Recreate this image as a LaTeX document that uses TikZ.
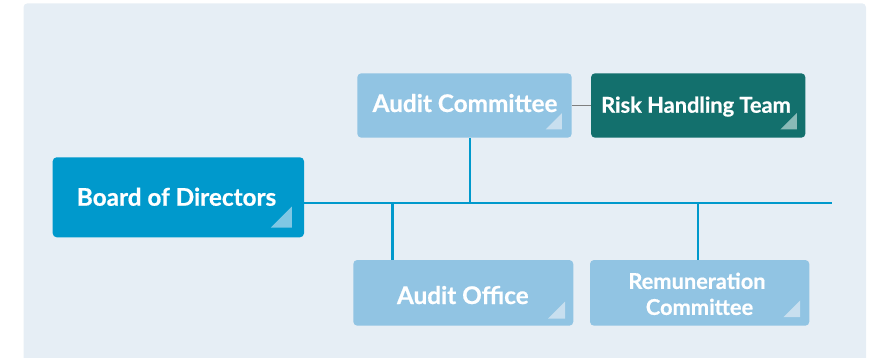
\documentclass[tikz,border=0pt]{standalone}
\usepackage{fontspec}
\setmainfont{Lato}[BoldFeatures={FakeBold=0.6}]
\usetikzlibrary{calc}
\definecolor{bg}{HTML}{E6EEF5}
\definecolor{boardc}{HTML}{0099CC}
\definecolor{lightc}{HTML}{91C4E3}
\definecolor{riskc}{HTML}{13706D}
\definecolor{linec}{HTML}{0099CC}
\definecolor{grayc}{HTML}{7F7F7F}
\definecolor{tri1}{HTML}{7FC7E4}
\definecolor{tri2}{HTML}{C8DFEF}
\definecolor{tri3}{HTML}{8ABAB7}
\newcommand\mycorner[4]{\fill[#4] ($(#1.south east)+(#2)$) -- ++(0,-#3) -- ++(-#3,#3) -- cycle;}
\begin{document}
\begin{tikzpicture}[x=1pt,y=-1pt,
  box/.style={rectangle, rounded corners=4pt, inner sep=0pt, draw=none},
  lbl/.style={text=white, inner sep=0pt, anchor=base},
  big/.style={font=\bfseries\fontsize{24.3}{29}\selectfont},
  small/.style={font=\bfseries\fontsize{21.8}{26}\selectfont},
  conn/.style={linec, line width=2.2pt},
  side/.style={grayc, line width=1pt}]
\clip (0,0) rectangle (872,358);
\fill[bg, rounded corners=4pt] (23.5,3.3) rectangle (866,375);
% boxes
\node[box, fill=boardc, minimum width=251.3pt, minimum height=80pt] (board) at (178.35,197.3) {};
\node[box, fill=lightc, minimum width=214.4pt, minimum height=64.4pt] (ac) at (464.5,105.5) {};
\node[box, fill=riskc, minimum width=214.3pt, minimum height=64.4pt] (risk) at (698.2,105.5) {};
\node[box, fill=lightc, minimum width=220pt, minimum height=65.7pt] (ao) at (463.3,292.85) {};
\node[box, fill=lightc, minimum width=219.3pt, minimum height=65.7pt] (rem) at (699.65,292.85) {};
% corner marks
\mycorner{board}{-12.3,-10}{21}{tri1}
\mycorner{ac}{-10,-8.4}{16.3}{tri2}
\mycorner{risk}{-8.6,-8.4}{16.7}{tri3}
\mycorner{ao}{-8.3,-7.4}{17}{tri2}
\mycorner{rem}{-9.3,-8.7}{16.8}{tri2}
% labels
\node[lbl, big] (tboard) at (176.5,205.7) {Board of Directors};
\node[lbl, big] (tac) at (465,112) {Audit Committee};
\node[lbl, small] (trisk) at (696,112.7) {Risk Handling Team};
\node[lbl, big] (tao) at (462.8,304) {Audit Office};
\node[lbl, small] (trem1) at (697,288.9) {Remuneration};
\node[lbl, small] (trem2) at (699.5,314.9) {Committee};
% connectors
\coordinate (lineend) at (832,202.7);
\coordinate (actop) at ($(ac.south)+(5.5,0)$);
\coordinate (aotop) at ($(ao.north west)+(39.4,0)$);
\coordinate (remtop) at ($(rem.north)+(-1.3,0)$);
\draw[side] (ac.east) -- (risk.west);
\draw[conn] (board.east |- lineend) -- (lineend);
\draw[conn] (actop) -- (actop |- lineend);
\draw[conn] (aotop) -- (aotop |- lineend);
\draw[conn] (remtop) -- (remtop |- lineend);
\end{tikzpicture}
\end{document}
